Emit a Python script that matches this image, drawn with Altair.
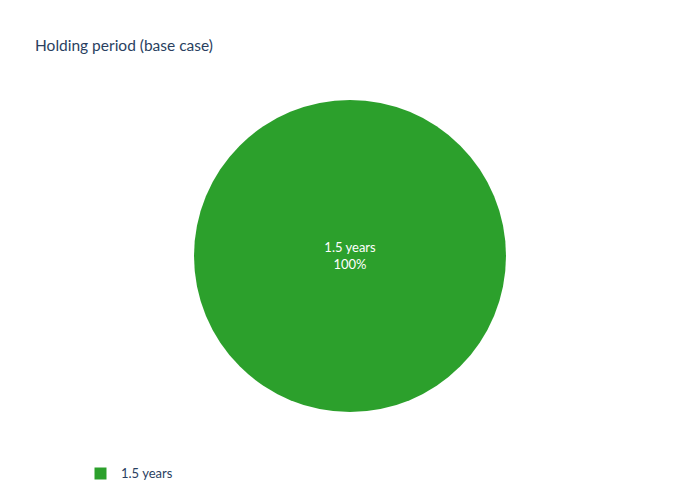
import altair as alt
import pandas as pd

categories = ["1.5 years"]
values = [100]

df = pd.DataFrame({"period": categories, "share": values})

FONT = "Lato"
W, H = 684, 484
CX, CY, R = 342, 248, 156

base = alt.Chart(df)

pie = base.mark_arc(radius=R, stroke="#ffffff", strokeWidth=0).encode(
    theta=alt.Theta("share:Q", stack=True),
    x=alt.value(CX),
    y=alt.value(CY),
    color=alt.Color(
        "period:N",
        scale=alt.Scale(domain=categories, range=["#2ca02c"]),
        legend=alt.Legend(
            title=None,
            orient="none",
            legendX=86,
            legendY=459,
            symbolType="square",
            symbolSize=144,
            symbolStrokeWidth=0,
            labelFont=FONT,
            labelFontSize=13,
            labelColor="#2a3f5f",
            labelOffset=14,
        ),
    ),
)

labels = base.transform_joinaggregate(total="sum(share)").transform_calculate(
    pct="format(datum.share / datum.total, '.0%')",
    txt="datum.period + '\\n' + datum.pct",
).mark_text(
    font=FONT, fontSize=13, color="#ffffff", lineBreak="\n", lineHeight=17,
    baseline="middle", align="center",
).encode(
    text="txt:N",
    x=alt.value(CX),
    y=alt.value(CY - 8),
)

title = alt.Chart(pd.DataFrame({"t": ["Holding period (base case)"]})).mark_text(
    font=FONT, fontSize=15.5, color="#2a3f5f", align="left", baseline="alphabetic",
).encode(
    text="t:N",
    x=alt.value(27),
    y=alt.value(43),
)

chart = alt.layer(pie, labels, title).properties(
    width=W, height=H, padding=0, autosize=alt.AutoSizeParams(type="none"),
    background="#ffffff",
).configure_view(stroke=None)

chart.save("out.html", embed_options={"renderer": "svg", "actions": False})
